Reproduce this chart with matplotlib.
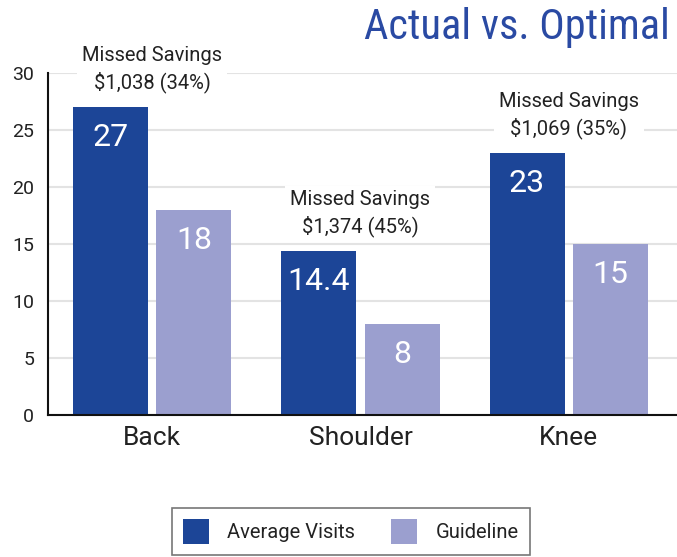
import numpy as np
import matplotlib.pyplot as plt
from matplotlib import font_manager

plt.rcParams['font.family'] = ['Roboto', 'DejaVu Sans']
# the title is set in a condensed face when there is one
installed = {f.name for f in font_manager.fontManager.ttflist}
TITLE_FONT = ['Roboto Condensed', 'Roboto'] if 'Roboto Condensed' in installed else ['Roboto']

categories = ['Back', 'Shoulder', 'Knee']
average_visits = [27, 14.4, 23]
guideline = [18, 8, 15]
missed = ['$1,038 (34%)', '$1,374 (45%)', '$1,069 (35%)']

DARK = '#1c4597'
LIGHT = '#9b9fcf'
TEXT = '#222222'

fig = plt.figure(figsize=(6.77, 5.57), dpi=100)
ax = fig.add_axes([0.071, 0.255, 0.929, 0.614])

x = np.arange(len(categories))
w = 0.36
b1 = ax.bar(x - 0.2, average_visits, w, color=DARK, label='Average Visits', zorder=2)
b2 = ax.bar(x + 0.2, guideline, w, color=LIGHT, label='Guideline', zorder=2)

# values inside the bars
for bars, vals in ((b1, average_visits), (b2, guideline)):
    for r, v in zip(bars, vals):
        ax.annotate(f'{v:g}', (r.get_x() + r.get_width() / 2, v),
                    xytext=(0, -22), textcoords='offset points',
                    ha='center', va='center', color='white', fontsize=23, zorder=3)

# missed savings notes
for i, m in enumerate(missed):
    top = max(average_visits[i], guideline[i])
    ax.annotate(f'Missed Savings\n{m}', (x[i], top), xytext=(0, 27),
                textcoords='offset points', ha='center', va='center',
                fontsize=14.5, color=TEXT, linespacing=1.35, zorder=4,
                bbox=dict(boxstyle='square,pad=0.25', fc='white', ec='none'))

ax.set_xlim(-0.5, 2.52)
ax.set_ylim(0, 30)
ax.set_yticks(range(0, 31, 5))
ax.yaxis.grid(True, color='#e3e3e3', linewidth=1.5, zorder=0)
ax.set_axisbelow(True)
ax.set_xticks(x)
ax.set_xticklabels(categories, fontsize=19, color=TEXT)
ax.tick_params(axis='x', length=0, pad=8)
ax.tick_params(axis='y', length=0, pad=10, labelsize=14, labelcolor=TEXT)
for s in ('top', 'right'):
    ax.spines[s].set_visible(False)
for s in ('left', 'bottom'):
    ax.spines[s].set_linewidth(1.5)
    ax.spines[s].set_color('#111111')

fig.text(0.99, 0.95, 'Actual vs. Optimal', ha='right', va='center',
         fontsize=30.5, color='#2a4aa3', family=TITLE_FONT)

leg = fig.legend(handles=[b1, b2], loc='upper center', bbox_to_anchor=(0.518, 0.088),
                 ncol=2, frameon=True, fancybox=False, fontsize=14.5,
                 handlelength=1.3, handleheight=1.5, columnspacing=1.8,
                 handletextpad=0.9, borderpad=0.55, borderaxespad=0)
leg.get_frame().set_edgecolor('#555555')
leg.get_frame().set_linewidth(1.2)
for t in leg.get_texts():
    t.set_color(TEXT)

fig.savefig('out.png', dpi=100)
